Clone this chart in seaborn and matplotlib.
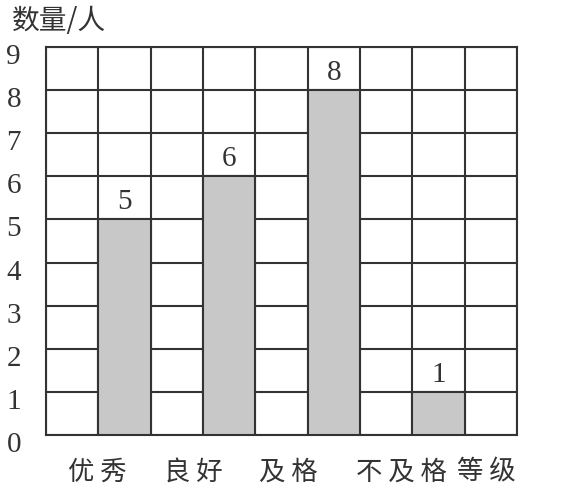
import matplotlib
matplotlib.use("Agg")
import matplotlib.pyplot as plt
import matplotlib.transforms as mtransforms
import seaborn as sns
import pandas as pd

# ---- data ----
categories = ["优秀", "良好", "及格", "不及格"]
counts = [5, 6, 8, 1]
y_ticks = list(range(0, 10))
y_title = "数量/人"
x_title = "等级"

sns.set_theme(style="white")
plt.rcParams['font.family'] = ['Noto Sans CJK SC', 'DejaVu Sans']

W, H = 582, 491
fig = plt.figure(figsize=(W / 100, H / 100), dpi=100)
ax = fig.add_axes([46 / W, 1 - 435 / H, (517 - 46) / W, (435 - 47) / H])

# bar slots: every other grid column, starting with the second
slots = [2 * i + 1.5 for i in range(len(categories))]
df = pd.DataFrame({"slot": slots, "count": counts, "grade": categories})

line_col = "#333333"
sns.barplot(data=df, x="slot", y="count", native_scale=True, width=0.5,
            color="#c8c8c8", saturation=1, edgecolor=line_col, linewidth=1.5,
            ax=ax, zorder=3)

ax.set_xlim(0, 9)
ax.set_ylim(0, 9)
ax.set_xticks(range(0, 10))
ax.set_xticklabels([])
ax.set_yticks(y_ticks)
ax.grid(True, color=line_col, linewidth=1.5)
ax.set_axisbelow(True)
for s in ax.spines.values():
    s.set_color(line_col)
    s.set_linewidth(1.5)
ax.tick_params(axis="both", length=0)
ax.tick_params(axis="y", pad=18)
ax.set_yticklabels([str(v) for v in y_ticks], fontfamily="Liberation Serif",
                   fontsize=21, color="#333333")
off = mtransforms.ScaledTranslation(0, -0.07, fig.dpi_scale_trans)
for lbl in ax.get_yticklabels():
    lbl.set_transform(lbl.get_transform() + off)
ax.set_xlabel("")
ax.set_ylabel("")

# value labels
ax.bar_label(ax.containers[0], labels=[str(c) for c in counts], padding=3,
             fontfamily="Liberation Serif", fontsize=21, color="#333333")

# category labels under the axis
label_x = [0.98, 2.81, 4.63, 6.79]
trans = mtransforms.blended_transform_factory(ax.transData, fig.transFigure)
for xx, name in zip(label_x, categories):
    ax.text(xx, 1 - 472 / H, " ".join(name), transform=trans, ha="center", va="center",
            fontsize=19, color="#333333")
ax.text(8.41, 1 - 472 / H, " ".join(x_title), transform=trans, ha="center", va="center",
        fontsize=19, color="#333333")

fig.text(12 / W, 1 - 21 / H, y_title, ha="left", va="center", fontsize=20,
         color="#333333")

fig.savefig("out.png", dpi=100)
